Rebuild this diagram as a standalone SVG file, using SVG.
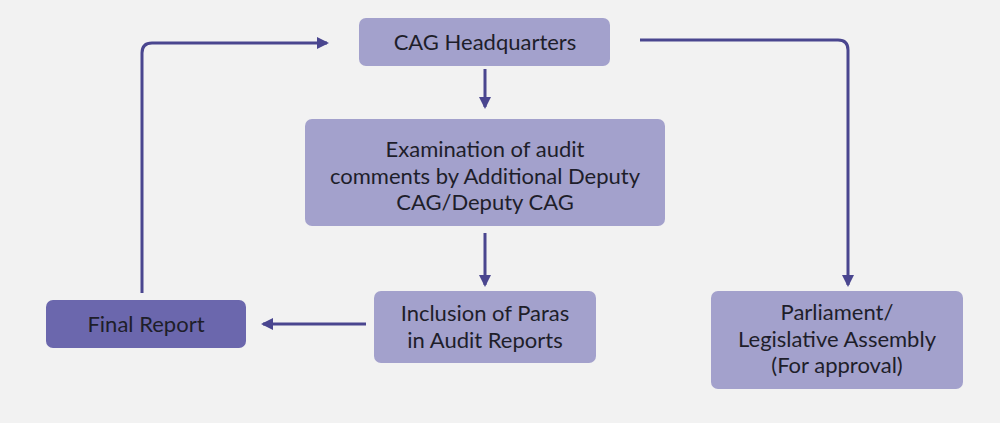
<svg xmlns="http://www.w3.org/2000/svg" width="1000" height="423" viewBox="0 0 1000 423">
<style>
.box{fill:#a3a1cc;}
.dark{fill:#6b67ad;}
.t{font-family:Lato,"Open Sans","Liberation Sans",sans-serif;font-size:22px;fill:#1e1e2a;text-anchor:middle;}
.c{fill:none;stroke:#4a468f;stroke-width:3;}
</style>
<defs>
<marker id="ah" markerWidth="12" markerHeight="12" viewBox="0 0 12 12" refX="10" refY="6" orient="auto" markerUnits="userSpaceOnUse">
<path d="M0,0 L12,6 L0,12 Z" fill="#4a468f"/>
</marker>
</defs>
<rect width="1000" height="423" fill="#f2f2f2"/>
<g id="connectors">
<path class="c" d="M485,69 V107" marker-end="url(#ah)"/>
<path class="c" d="M485,233 V285" marker-end="url(#ah)"/>
<path class="c" d="M366,324 H263" marker-end="url(#ah)"/>
<path class="c" d="M142,293 V53 Q142,43 152,43 H327" marker-end="url(#ah)"/>
<path class="c" d="M640,40 H838 Q848,40 848,50 V285" marker-end="url(#ah)"/>
</g>
<g id="hq">
<rect class="box" x="359" y="18" width="251" height="48" rx="7"/>
<text class="t" x="485" y="50">CAG Headquarters</text>
</g>
<g id="exam">
<rect class="box" x="305" y="119" width="360" height="107" rx="7"/>
<text class="t" x="485" y="157">Examination of audit<tspan x="485" dy="26.5">comments by Additional Deputy</tspan><tspan x="485" dy="26.5">CAG/Deputy CAG</tspan></text>
</g>
<g id="inclusion">
<rect class="box" x="374" y="291" width="222" height="72" rx="7"/>
<text class="t" x="485" y="321">Inclusion of Paras<tspan x="485" dy="26.5">in Audit Reports</tspan></text>
</g>
<g id="final">
<rect class="dark" x="46" y="300" width="200" height="48" rx="7"/>
<text class="t" x="146" y="332">Final Report</text>
</g>
<g id="parliament">
<rect class="box" x="711" y="291" width="252" height="98" rx="7"/>
<text class="t" x="837" y="320">Parliament/<tspan x="837" dy="26.5">Legislative Assembly</tspan><tspan x="837" dy="26.5">(For approval)</tspan></text>
</g>
</svg>
